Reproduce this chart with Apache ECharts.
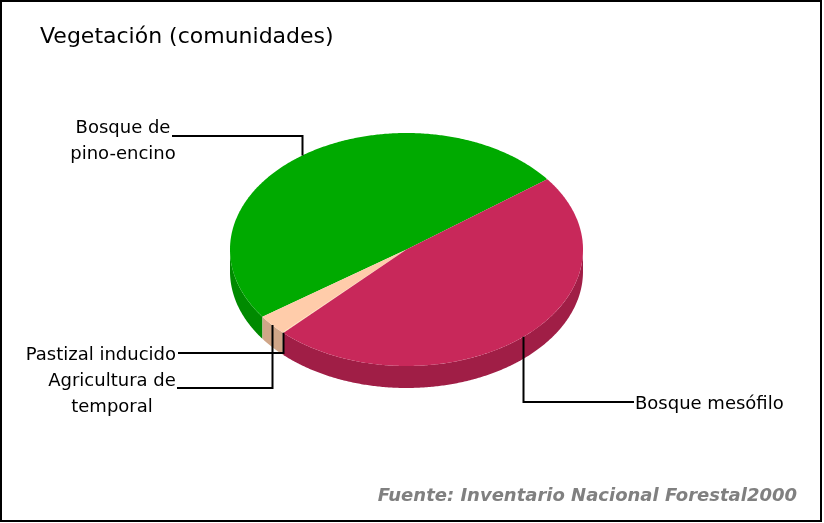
<!DOCTYPE html>
<html><head><meta charset="utf-8">
<script src="https://cdn.jsdelivr.net/npm/echarts@6/dist/echarts.min.js"></script>
<style>html,body{margin:0;padding:0;background:#fff}#c{width:824px;height:523px}</style>
</head><body><div id="c"></div>
<script>
// ---- data ----
const categories = ['Bosque de\npino-encino', 'Agricultura de\ntemporal', 'Pastizal inducido', 'Bosque mesófilo'];
const values = [49.5, 2.8, 0.1, 47.6];
const titleText = 'Vegetación (comunidades)';
const sourceText = 'Fuente: Inventario Nacional Forestal2000';

// ---- styles ----
const topColors = ['#00AA00', '#FFCCAA', '#FFE0B0', '#C8285A'];
const sideColors = ['#008A00', '#D0A688', '#D0B890', '#A01E46'];
const PIE = { cx: 406.5, cy: 249.5, rx: 176.5, ry: 116.5, depth: 22, startDeg: 37.1 };
const LABEL_LAYOUT = [
  { elbowY: 136, endX: 172, textX: 123, textY: 141, align: 'center' },
  { elbowY: 388, endX: 177, textX: 112, textY: 394, align: 'center' },
  { elbowY: 353, endX: 178, textX: 176, textY: 355, align: 'right' },
  { elbowY: 402, endX: 634, textX: 635, textY: 404, align: 'left' }
];
const FONT = 'DejaVu Sans, Verdana, sans-serif';

const total = values.reduce((a, b) => a + b, 0);
const starts = [];
let acc = 0;
values.forEach(v => { starts.push(PIE.startDeg + acc / total * 360); acc += v; });
function ang(i) { return [starts[i], starts[i] + values[i] / total * 360]; }
function pt(deg, dy) {
  const r = deg * Math.PI / 180;
  return [PIE.cx + PIE.rx * Math.cos(r), PIE.cy - PIE.ry * Math.sin(r) + (dy || 0)];
}
function arcPts(a1, a2, dy) {
  const pts = [];
  const n = Math.max(2, Math.ceil((a2 - a1) / 0.5));
  for (let k = 0; k <= n; k++) pts.push(pt(a1 + (a2 - a1) * k / n, dy));
  return pts;
}

const chart = echarts.init(document.getElementById('c'), null, { renderer: 'canvas' });
const seriesData = values.map((v, i) => ({ name: categories[i], value: v }));

chart.setOption({
  animation: false,
  backgroundColor: '#ffffff',
  graphic: [
    { type: 'rect', shape: { x: 1, y: 1, width: 820, height: 520 }, style: { fill: 'none', stroke: '#000', lineWidth: 2 }, z: 100 },
    { type: 'text', x: 40, y: 37, style: { text: titleText, font: '22px ' + FONT, fill: '#000', align: 'left', verticalAlign: 'middle' } },
    { type: 'text', x: 797, y: 496, style: { text: sourceText, font: 'italic bold 18px ' + FONT, fill: '#808080', align: 'right', verticalAlign: 'middle' } }
  ],
  series: [
    {
      type: 'custom', coordinateSystem: 'none', z: 1, data: seriesData,
      renderItem: function (params) {
        const i = params.dataIndex;
        const [a1, a2] = ang(i);
        const children = [];
        [-360, 0, 360].forEach(off => {
          const s = Math.max(a1, 180 + off), e = Math.min(a2, 360 + off);
          if (e > s) {
            const topArc = arcPts(s, e, 0);
            const botArc = arcPts(s, e, PIE.depth).reverse();
            children.push({ type: 'polygon', shape: { points: topArc.concat(botArc) }, style: { fill: sideColors[i] } });
          }
        });
        return { type: 'group', children: children };
      }
    },
    {
      type: 'custom', coordinateSystem: 'none', z: 2, data: seriesData,
      renderItem: function (params) {
        const i = params.dataIndex;
        const [a1, a2] = ang(i);
        const pts = [[PIE.cx, PIE.cy]].concat(arcPts(a1, a2, 0));
        return { type: 'polygon', shape: { points: pts }, style: { fill: topColors[i] } };
      }
    },
    {
      type: 'custom', coordinateSystem: 'none', z: 3, data: seriesData,
      renderItem: function (params) {
        const i = params.dataIndex;
        const [a1, a2] = ang(i);
        const a = pt((a1 + a2) / 2, 0);
        const L = LABEL_LAYOUT[i];
        const x0 = Math.round(a[0]) + 0.5;
        return {
          type: 'group', children: [
            { type: 'polyline', shape: { points: [[x0, a[1]], [x0, L.elbowY], [L.endX, L.elbowY]] }, style: { stroke: '#000', lineWidth: 2, fill: 'none' } },
            { type: 'text', x: L.textX, y: L.textY, style: { text: categories[i], font: '18px ' + FONT, fill: '#000', align: L.align, verticalAlign: 'middle', lineHeight: 26 } }
          ]
        };
      }
    }
  ]
});
</script></body></html>
